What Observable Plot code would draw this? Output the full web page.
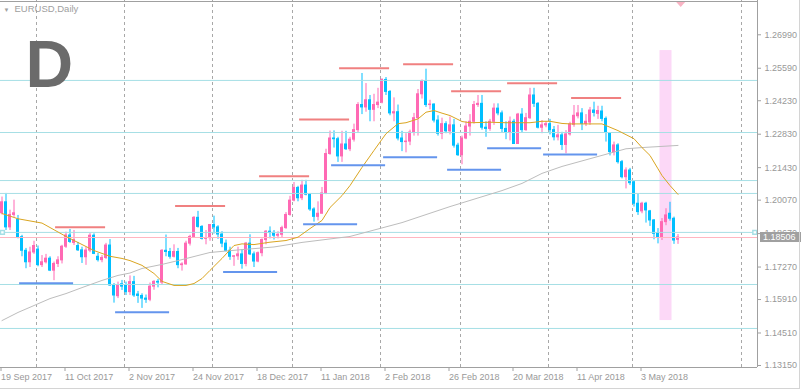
<!DOCTYPE html>
<html><head><meta charset="utf-8">
<script src="https://cdn.jsdelivr.net/npm/d3@7"></script>
<script src="https://cdn.jsdelivr.net/npm/@observablehq/plot@0.6"></script>
<style>
html,body{margin:0;padding:0;background:#fff;}
#chart{width:801px;height:390px;overflow:hidden;position:relative;}
</style></head><body><div id="chart"></div>
<script>
// ---- data (EURUSD daily, bar index 0 = 19 Sep 2017) ----
const opens = [1.1952,1.1998,1.1893,1.1945,1.1925,1.1852,1.1795,1.1747,1.1788,1.1800,1.1735,1.1747,1.1762,1.1712,1.1740,1.1755,1.1812,1.1859,1.1828,1.1815,1.1797,1.1768,1.1796,1.1858,1.1770,1.1756,1.1765,1.1817,1.1650,1.1605,1.1655,1.1648,1.1622,1.1664,1.1612,1.1606,1.1595,1.1590,1.1645,1.1665,1.1662,1.1795,1.1790,1.1770,1.1790,1.1735,1.1738,1.1825,1.1853,1.1933,1.1895,1.1845,1.1848,1.1903,1.1893,1.1863,1.1825,1.1795,1.1770,1.1772,1.1780,1.1740,1.1825,1.1780,1.1750,1.1785,1.1840,1.1875,1.1870,1.1858,1.1862,1.1890,1.1945,1.2005,1.2058,1.2015,1.2068,1.2030,1.1968,1.1937,1.1950,1.2035,1.2200,1.2265,1.2262,1.2190,1.2240,1.2220,1.2260,1.2300,1.2405,1.2395,1.2425,1.2385,1.2405,1.2415,1.2510,1.2460,1.2370,1.2375,1.2265,1.2250,1.2252,1.2290,1.2350,1.2450,1.2505,1.2405,1.2407,1.2340,1.2285,1.2325,1.2295,1.2320,1.2235,1.2195,1.2265,1.2315,1.2335,1.2405,1.2410,1.2310,1.2305,1.2335,1.2390,1.2370,1.2305,1.2290,1.2335,1.2242,1.2365,1.2300,1.2350,1.2445,1.2410,1.2310,1.2320,1.2325,1.2300,1.2270,1.2278,1.2238,1.2282,1.2322,1.2358,1.2370,1.2326,1.2332,1.2382,1.2368,1.2378,1.2347,1.2285,1.2208,1.2236,1.2166,1.2103,1.2131,1.2082,1.1992,1.1960,1.1992,1.1960,1.1922,1.1869,1.1852,1.1915,1.1950,1.1929,1.1841];
const highs = [1.2020,1.2035,1.1965,1.2007,1.1943,1.1860,1.1805,1.1810,1.1835,1.1815,1.1775,1.1780,1.1770,1.1748,1.1770,1.1818,1.1873,1.1884,1.1880,1.1830,1.1810,1.1810,1.1867,1.1866,1.1784,1.1775,1.1826,1.1842,1.1658,1.1664,1.1671,1.1664,1.1690,1.1688,1.1625,1.1615,1.1610,1.1660,1.1670,1.1675,1.1800,1.1861,1.1805,1.1820,1.1805,1.1745,1.1835,1.1860,1.1938,1.1960,1.1900,1.1880,1.1905,1.1940,1.1900,1.1875,1.1840,1.1810,1.1775,1.1810,1.1800,1.1830,1.1862,1.1790,1.1790,1.1845,1.1880,1.1895,1.1880,1.1875,1.1898,1.1955,1.2023,1.2081,1.2065,1.2090,1.2090,1.2035,1.1975,1.2000,1.2060,1.2220,1.2296,1.2297,1.2270,1.2295,1.2295,1.2270,1.2325,1.2415,1.2537,1.2495,1.2445,1.2450,1.2475,1.2515,1.2520,1.2465,1.2435,1.2405,1.2295,1.2285,1.2300,1.2370,1.2470,1.2510,1.2555,1.2425,1.2410,1.2360,1.2350,1.2335,1.2355,1.2345,1.2245,1.2275,1.2335,1.2365,1.2420,1.2445,1.2445,1.2335,1.2345,1.2410,1.2410,1.2380,1.2335,1.2355,1.2345,1.2370,1.2390,1.2370,1.2475,1.2475,1.2415,1.2340,1.2335,1.2345,1.2315,1.2320,1.2291,1.2298,1.2333,1.2403,1.2403,1.2390,1.2365,1.2395,1.2417,1.2400,1.2400,1.2355,1.2278,1.2250,1.2243,1.2173,1.2142,1.2140,1.2085,1.2034,1.1998,1.1998,1.1964,1.1926,1.1888,1.1930,1.1971,1.1998,1.1936,1.1863];
const lows = [1.1945,1.1880,1.1880,1.1935,1.1845,1.1770,1.1720,1.1725,1.1780,1.1728,1.1725,1.1740,1.1708,1.1670,1.1725,1.1740,1.1805,1.1826,1.1817,1.1792,1.1742,1.1734,1.1787,1.1779,1.1748,1.1745,1.1759,1.1646,1.1576,1.1595,1.1629,1.1608,1.1608,1.1600,1.1575,1.1554,1.1575,1.1582,1.1630,1.1640,1.1650,1.1770,1.1760,1.1765,1.1720,1.1710,1.1735,1.1815,1.1850,1.1890,1.1840,1.1820,1.1835,1.1865,1.1843,1.1808,1.1790,1.1755,1.1730,1.1755,1.1718,1.1728,1.1775,1.1725,1.1745,1.1770,1.1820,1.1845,1.1840,1.1845,1.1850,1.1885,1.1940,1.2000,1.2000,1.2005,1.2025,1.1960,1.1915,1.1920,1.1950,1.2030,1.2195,1.2225,1.2165,1.2165,1.2215,1.2210,1.2250,1.2290,1.2365,1.2375,1.2335,1.2335,1.2390,1.2410,1.2445,1.2360,1.2335,1.2255,1.2210,1.2205,1.2235,1.2275,1.2275,1.2430,1.2395,1.2385,1.2330,1.2275,1.2260,1.2285,1.2280,1.2225,1.2190,1.2155,1.2260,1.2275,1.2325,1.2395,1.2300,1.2270,1.2295,1.2320,1.2360,1.2290,1.2260,1.2255,1.2240,1.2240,1.2290,1.2295,1.2345,1.2395,1.2305,1.2285,1.2310,1.2280,1.2255,1.2255,1.2215,1.2201,1.2275,1.2312,1.2347,1.2298,1.2315,1.2320,1.2355,1.2345,1.2335,1.2250,1.2192,1.2192,1.2158,1.2096,1.2054,1.2068,1.1978,1.1943,1.1950,1.1911,1.1897,1.1841,1.1824,1.1838,1.1900,1.1919,1.1822,1.1822];
const closes = [1.1998,1.1893,1.1945,1.1952,1.1852,1.1795,1.1747,1.1788,1.1815,1.1735,1.1747,1.1762,1.1712,1.1740,1.1755,1.1812,1.1859,1.1832,1.1840,1.1797,1.1768,1.1796,1.1858,1.1782,1.1756,1.1765,1.1817,1.1650,1.1608,1.1650,1.1645,1.1622,1.1664,1.1608,1.1606,1.1595,1.1590,1.1645,1.1665,1.1662,1.1795,1.1790,1.1770,1.1790,1.1735,1.1738,1.1825,1.1853,1.1933,1.1895,1.1845,1.1848,1.1903,1.1893,1.1863,1.1825,1.1795,1.1770,1.1772,1.1780,1.1740,1.1825,1.1780,1.1750,1.1785,1.1840,1.1875,1.1870,1.1858,1.1862,1.1890,1.1945,1.2005,1.2058,1.2015,1.2068,1.2030,1.1968,1.1937,1.1950,1.2035,1.2200,1.2265,1.2262,1.2190,1.2240,1.2220,1.2260,1.2300,1.2405,1.2395,1.2425,1.2385,1.2405,1.2415,1.2510,1.2460,1.2370,1.2375,1.2265,1.2250,1.2252,1.2290,1.2350,1.2450,1.2505,1.2405,1.2407,1.2340,1.2285,1.2325,1.2295,1.2320,1.2235,1.2195,1.2265,1.2315,1.2335,1.2405,1.2410,1.2310,1.2305,1.2335,1.2390,1.2370,1.2305,1.2290,1.2335,1.2242,1.2365,1.2300,1.2350,1.2445,1.2410,1.2310,1.2320,1.2325,1.2300,1.2270,1.2278,1.2238,1.2282,1.2324,1.2360,1.2370,1.2326,1.2335,1.2382,1.2372,1.2380,1.2347,1.2290,1.2208,1.2236,1.2166,1.2103,1.2131,1.2078,1.1992,1.1957,1.1992,1.1964,1.1922,1.1866,1.1852,1.1915,1.1943,1.1929,1.1838,1.18506];

// moving averages (bar index, price)
const maFastIdx = [0,4,10,16,23,27,30,32,35,38,40,43,46,48,50,52,55,58,60,63,67,71,74,77,80,82,85,87,90,93,96,99,101,104,106,108,110,112,115,117,122,126,132,135,137,140,142,150,154,158,160,162,164,165,167,169];
const maFastVal = [1.1951,1.1929,1.1911,1.1855,1.1796,1.1772,1.1763,1.1754,1.1734,1.1700,1.1667,1.1650,1.1650,1.1658,1.1679,1.1713,1.1763,1.1817,1.1824,1.1821,1.1831,1.1838,1.1852,1.1888,1.1922,1.1976,1.2026,1.2068,1.2144,1.2215,1.2285,1.2327,1.2331,1.2347,1.2375,1.2382,1.2371,1.2361,1.2336,1.2331,1.2333,1.2331,1.2331,1.2337,1.2337,1.2328,1.2326,1.2326,1.2298,1.2264,1.2227,1.2194,1.2138,1.2110,1.2068,1.2031];
const maSlowIdx = [0,4,8,12,16,20,25,29,32,35,40,44,48,52,60,68,75,87,100,112,125,130,135,140,148,156,160,165,169];
const maSlowVal = [1.1503,1.1537,1.1566,1.1595,1.1616,1.1641,1.1671,1.1692,1.1702,1.1721,1.1738,1.1754,1.1771,1.1788,1.1800,1.1811,1.1830,1.1855,1.1913,1.1980,1.2047,1.2077,1.2119,1.2148,1.2185,1.2222,1.2227,1.2232,1.2236];

// drawn objects
const levels = [1.2508, 1.2290, 1.2089, 1.2035, 1.1872, 1.1654, 1.1470];
const bid = 1.18506;
const resFrom = [13.4, 43.4, 64.4, 74.4, 84.4, 100.4, 112.4, 126.4, 142.4];
const resTo   = [25.9, 55.9, 76.9, 86.9, 96.9, 112.9, 124.9, 138.9, 154.9];
const resPrice = [1.1894, 1.1982, 1.2107, 1.2345, 1.2559, 1.2576, 1.2463, 1.2496, 1.2434];
const supFrom = [4.4, 28.4, 55.4, 75.4, 82.4, 95.4, 111.4, 121.4, 135.4];
const supTo   = [17.9, 41.9, 68.9, 88.9, 95.9, 108.9, 124.9, 134.9, 148.9];
const supPrice = [1.1659, 1.1538, 1.1706, 1.1906, 1.2153, 1.2187, 1.2134, 1.2224, 1.2198];
const band = {from: 164.5, to: 167.5, low: 1.1503, high: 1.2633};
const gridIdx = [9, 31, 53, 73, 95, 115, 137, 158, 185.25];
const lineAnchors = [0.1, 188.2];
const shiftMark = [169.8];

// axes
const yTicks = [1.2699, 1.2559, 1.2423, 1.2283, 1.2143, 1.2007, 1.1867, 1.1727, 1.1591, 1.1451, 1.1315];
const xTickIdx = [0, 16, 32, 48, 64, 80, 96, 112, 128, 144, 160];
const xTickLabels = ["19 Sep 2017","11 Oct 2017","2 Nov 2017","24 Nov 2017","18 Dec 2017","11 Jan 2018","2 Feb 2018","26 Feb 2018","20 Mar 2018","11 Apr 2018","3 May 2018"];

// ---- build ----
const candles = opens.map((o, i) => ({i, o, h: highs[i], l: lows[i], c: closes[i]}));
const fast = maFastIdx.map((i, k) => ({i, v: maFastVal[k]}));
const slow = maSlowIdx.map((i, k) => ({i, v: maSlowVal[k]}));
const res = resPrice.map((p, k) => ({a: resFrom[k], b: resTo[k], p}));
const sup = supPrice.map((p, k) => ({a: supFrom[k], b: supTo[k], p}));
const UP = "#ff69b4", DN = "#00bfff";
const col = d => d.c >= d.o ? UP : DN;
const FONT = "Liberation Sans, Arial, sans-serif";
const YMIN = 1.13066, YMAX = 1.28425, XMIN = -0.375, XMAX = 188.875;

const chart = Plot.plot({
  width: 801, height: 390,
  marginLeft: 0, marginRight: 44, marginTop: 0, marginBottom: 23,
  style: {fontFamily: FONT, fontSize: "9px", color: "#999", background: "#fff", overflow: "visible"},
  x: {type: "linear", domain: [XMIN, XMAX]},
  y: {type: "linear", domain: [YMIN, YMAX]},
  marks: [
    Plot.rect([band], {x1: "from", x2: "to", y1: "low", y2: "high", fill: "#fcd8f7"}),
    Plot.ruleX(gridIdx, {x: d => d, dx: -1.5, y1: YMIN, y2: YMAX, stroke: "#a8a8a8", strokeDasharray: "3,3"}),
    Plot.ruleX(candles, {x: "i", y1: "l", y2: "h", stroke: col}),
    Plot.rect(candles, {x1: d => d.i - 0.375, x2: d => d.i + 0.375, y1: d => Math.min(d.o, d.c), y2: d => Math.max(d.o, d.c), fill: col, insetTop: -0.5, insetBottom: -0.5}),
    Plot.ruleY(levels, {y: d => d, stroke: "#a6dfe5"}),
    Plot.ruleY([bid], {y: d => d, stroke: "#ffb6c1"}),
    Plot.line(slow, {x: "i", y: "v", stroke: "#bdbdbd", strokeWidth: 1}),
    Plot.line(fast, {x: "i", y: "v", stroke: "#daa520", strokeWidth: 1}),
    Plot.ruleY(res, {y: "p", x1: "a", x2: "b", stroke: "#f08080", strokeWidth: 2}),
    Plot.ruleY(sup, {y: "p", x1: "a", x2: "b", stroke: "#6495ed", strokeWidth: 2}),
    Plot.dot(lineAnchors, {x: d => d, y: () => levels[4], symbol: "square", r: 2.2, stroke: "#a6dfe5", fill: "#fff"}),
    Plot.ruleX([XMAX], {stroke: "#a0a0a0"}),
    Plot.ruleY([YMIN], {stroke: "#a0a0a0"}),
    Plot.ruleY([YMAX], {dy: 1, stroke: "#a0a0a0"}),
    Plot.axisY(yTicks, {anchor: "right", tickSize: 3, tickPadding: 4, tickFormat: d => d.toFixed(5), label: null, stroke: "#a0a0a0", fill: "#999", fontSize: 9}),
    Plot.axisX(xTickIdx, {anchor: "bottom", tickSize: 4, tickPadding: 2, tickFormat: d => xTickLabels[xTickIdx.indexOf(d)], textAnchor: "start", dx: -1, label: null, stroke: "#a0a0a0", fill: "#999", fontSize: 9}),
    Plot.text(["EURUSD,Daily"], {frameAnchor: "top-left", dx: 14, dy: 5, lineAnchor: "top", fill: "#a0a0a0", fontSize: 9.5}),
    Plot.text(["\u25BC"], {frameAnchor: "top-left", dx: 3, dy: 7, lineAnchor: "top", fill: "#a0a0a0", fontSize: 6}),
    Plot.text(["D"], {frameAnchor: "top-left", dx: 25, dy: 40, lineAnchor: "top", fill: "#6b6b6b", fontSize: 66, fontWeight: "bold"})
  ]
});
document.getElementById("chart").appendChild(chart);

// chart-shift marker, current price label box and window border, placed through the plot's own scales
const svg = d3.select(chart);
const xs = chart.scale("x"), ys = chart.scale("y");
const g = svg.append("g");
const mx = xs.apply(shiftMark[0]);
g.append("path").attr("d", `M${mx - 4.5},2 L${mx + 4.5},2 L${mx},7 Z`).attr("fill", "#f9b4c4");
const yb = ys.apply(bid);
g.append("rect").attr("x", 760).attr("y", yb - 5).attr("width", 41).attr("height", 10).attr("fill", "#a0a0a0");
g.append("text").attr("x", 763).attr("y", yb + 3.3).attr("text-anchor", "start").attr("fill", "#fff").attr("font-size", 9).attr("font-family", FONT).text(bid.toFixed(5));
g.append("line").attr("x1", 799.5).attr("x2", 799.5).attr("y1", 0).attr("y2", 388.5).attr("stroke", "#d4d4d4");
g.append("line").attr("x1", 0).attr("x2", 800).attr("y1", 388.5).attr("y2", 388.5).attr("stroke", "#d4d4d4");
</script>
</body></html>
